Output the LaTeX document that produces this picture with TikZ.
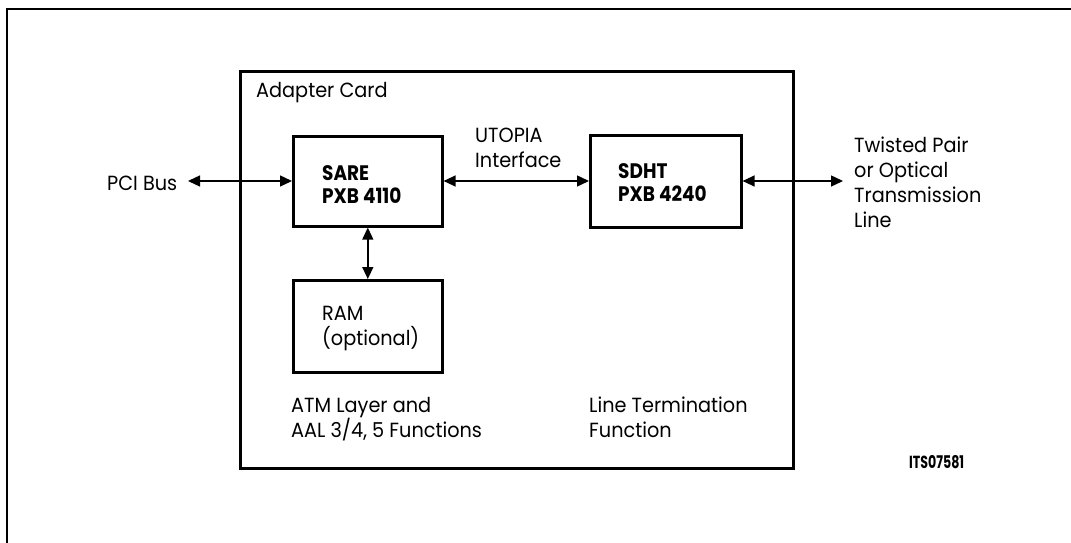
\documentclass[tikz,border=0pt]{standalone}
\usepackage{fontspec}
\setmainfont{Poppins}[FakeStretch=0.94, BoldFeatures={FakeStretch=0.88}]
\newfontfamily\condfont{Poppins}[FakeStretch=0.72]
\usetikzlibrary{arrows.meta}
\tikzset{
  frame/.style={line width=2pt},
  cardbox/.style={draw, line width=2.6pt, inner sep=0pt, anchor=north west},
  chipbox/.style={draw, line width=2.6pt, inner sep=0pt, anchor=north west},
  lbl/.style={inner sep=0pt, anchor=base west, align=left, font=\fontsize{20.5}{24.7}\selectfont},
  blbl/.style={inner sep=0pt, anchor=base west, align=left, font=\fontsize{21}{23}\selectfont\bfseries},
  biarrow/.style={line width=1.4pt, {Triangle[length=12pt,width=11pt]}-{Triangle[length=12pt,width=11pt]}},
}
\begin{document}
\begin{tikzpicture}[x=1pt,y=-1pt]
\useasboundingbox (0,0) rectangle (1071,543);
% outer frame (only top and left edges visible)
\draw[frame] (7,543) -- (7,9) -- (1071,9);
% boxes
\node[cardbox, minimum width=553pt, minimum height=397pt] (card) at (239,70) {};
\node[chipbox, minimum width=149pt, minimum height=90pt] (sare) at (292,135) {};
\node[chipbox, minimum width=151pt, minimum height=92pt] (sdht) at (589,134) {};
\node[chipbox, minimum width=149pt, minimum height=92pt] (ram) at (292,279) {};
% texts (anchor = baseline of the last line)
\node[lbl] (cardlbl) at (256,97) {Adapter Card};
\node[blbl] (saretxt) at (322,203) {SARE\\PXB 4110};
\node[blbl] (sdhttxt) at (618,201) {SDHT\\PXB 4240};
\node[lbl] (ramtxt) at (322,345) {RAM\\(optional)};
\node[lbl] (utopia) at (475,167) {UTOPIA\\Interface};
\node[lbl] (pci) at (107,190) {PCI Bus};
\node[lbl] (twisted) at (854,227) {Twisted Pair\\or Optical\\Transmission\\Line};
\node[lbl] (atm) at (291,437) {ATM Layer and\\AAL 3/4, 5 Functions};
\node[lbl] (lineterm) at (589,437) {Line Termination\\Function};
\node[inner sep=0pt, anchor=base west, font=\fontsize{17.5}{19}\condfont\bfseries] (its) at (909,468) {ITS07581};
% connector ends
\coordinate (pcitip) at (188,181);
\coordinate (linetip) at (843,181);
% connectors
\draw[biarrow] (pcitip) -- (sare.west |- pcitip);
\draw[biarrow] (sare.east |- pcitip) -- (sdht.west |- pcitip);
\draw[biarrow] (sdht.east |- linetip) -- (linetip);
\draw[biarrow] (sare.south) -- (ram.north);
\end{tikzpicture}
\end{document}
